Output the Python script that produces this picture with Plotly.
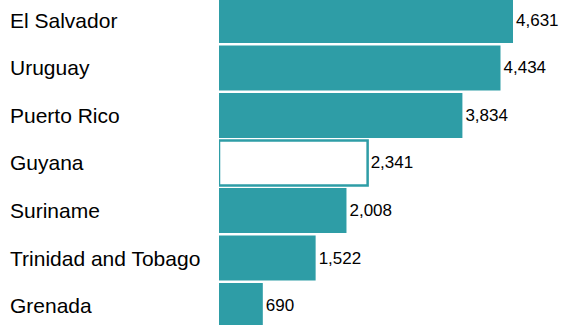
import plotly.graph_objects as go

# ----------------------------------------------------------
# Data
# ----------------------------------------------------------
countries = ["El Salvador", "Uruguay", "Puerto Rico", "Guyana",
             "Suriname", "Trinidad and Tobago", "Grenada"]
values = [4631, 4434, 3834, 2341, 2008, 1522, 690]
highlight = "Guyana"

TEAL = "#2e9da6"
W, H = 565, 325
BAR_LEFT = 219   # pixel where the bars start
FONT = "Liberation Sans, Arial"

fills = ["white" if c == highlight else TEAL for c in countries]
line_w = [2.5 if c == highlight else 0 for c in countries]

fig = go.Figure()
fig.add_trace(
    go.Bar(
        x=values,
        y=countries,
        orientation="h",
        marker=dict(color=fills, line=dict(color=TEAL, width=line_w)),
        text=[f"{v:,}" for v in values],
        textposition="outside",
        textfont=dict(family=FONT, size=17, color="black"),
        cliponaxis=False,
        hoverinfo="skip",
    )
)

# left-aligned country labels
for c in countries:
    fig.add_annotation(
        x=8 / W, xref="paper", xanchor="left",
        y=c, yref="y",
        text=c, showarrow=False,
        font=dict(family=FONT, size=21, color="black"),
    )

fig.update_layout(
    width=W, height=H,
    margin=dict(l=0, r=0, t=0, b=0),
    paper_bgcolor="white",
    plot_bgcolor="white",
    bargap=0.05,
    showlegend=False,
)
fig.update_xaxes(domain=[BAR_LEFT / W, 1], range=[0, 5450], visible=False)
fig.update_yaxes(type="category", range=[6.41, -0.43], visible=False)

# drop the default page margin so the chart sits at the window's corner
fig.write_html(
    "out.html",
    config={"displayModeBar": False},
    post_script="document.body.style.margin='0';",
)
